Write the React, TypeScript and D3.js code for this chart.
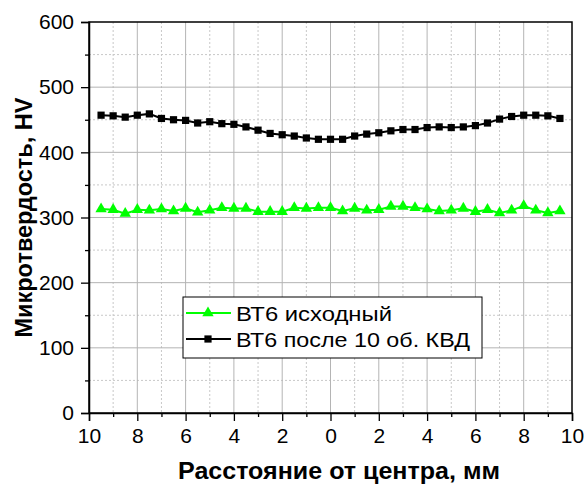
import { useEffect, useRef } from 'react';
import * as d3 from 'd3';

const positions = [
  -9.5, -9, -8.5, -8, -7.5, -7, -6.5, -6, -5.5, -5, -4.5, -4, -3.5, -3, -2.5, -2, -1.5, -1, -0.5,
  0, 0.5, 1, 1.5, 2, 2.5, 3, 3.5, 4, 4.5, 5, 5.5, 6, 6.5, 7, 7.5, 8, 8.5, 9, 9.5,
];

const hardnessInitial = [
  313, 312, 306, 312, 311, 313, 310, 314, 308, 311, 315, 314, 314, 309, 309, 309, 315, 314, 315,
  315, 310, 314, 311, 312, 317, 317, 315, 313, 310, 311, 314, 309, 312, 307, 311, 318, 311, 307, 310,
];

const hardnessHpt = [
  457, 456, 454, 457, 459, 452, 450, 449, 445, 447, 444, 443, 439, 434, 429, 427, 425, 422, 420,
  420, 420, 425, 428, 430, 433, 435, 435, 438, 439, 438, 439, 441, 445, 451, 455, 457, 457, 456, 452,
];

const seriesNames = ['ВТ6 исходный', 'ВТ6 после 10 об. КВД'];
const xTicks = [-10, -8, -6, -4, -2, 0, 2, 4, 6, 8, 10];
const yTicks = [0, 100, 200, 300, 400, 500, 600];

const GREEN = '#00ff00';
const FONT = '"Liberation Sans", Arial, sans-serif';

const App = () => {
  const chartRef = useRef<SVGSVGElement>(null);

  useEffect(() => {
    if (!chartRef.current) return;
    const svg = d3.select(chartRef.current);
    svg.selectAll('*').remove();

    const left = 89, right = 572, top = 22, bottom = 413;
    const x = d3.scaleLinear().domain([-10, 10]).range([left, right]);
    const y = d3.scaleLinear().domain([0, 600]).range([bottom, top]);

    const grid = svg.append('g');
    // minor grid (dotted)
    const xMinor = d3.range(-9, 10, 2);
    const yMinor = d3.range(50, 600, 100);
    grid.selectAll('line.xm').data(xMinor).join('line')
      .attr('class', 'xm')
      .attr('x1', d => x(d)).attr('x2', d => x(d)).attr('y1', top).attr('y2', bottom)
      .attr('stroke', '#c8c8c8').attr('stroke-dasharray', '2,2');
    grid.selectAll('line.ym').data(yMinor).join('line')
      .attr('class', 'ym')
      .attr('x1', left).attr('x2', right).attr('y1', d => y(d)).attr('y2', d => y(d))
      .attr('stroke', '#c8c8c8').attr('stroke-dasharray', '2,2');
    // major grid
    grid.selectAll('line.xg').data(xTicks.slice(1, -1)).join('line')
      .attr('class', 'xg')
      .attr('x1', d => x(d)).attr('x2', d => x(d)).attr('y1', top).attr('y2', bottom)
      .attr('stroke', '#b4b4b4');
    grid.selectAll('line.yg').data(yTicks.slice(1, -1)).join('line')
      .attr('class', 'yg')
      .attr('x1', left).attr('x2', right).attr('y1', d => y(d)).attr('y2', d => y(d))
      .attr('stroke', '#b4b4b4');

    // frame
    svg.append('rect')
      .attr('x', left).attr('y', top).attr('width', right - left).attr('height', bottom - top)
      .attr('fill', 'none').attr('stroke', '#000').attr('stroke-width', 1.5);

    // axes
    const xAxis = svg.append('g').attr('transform', `translate(0,${bottom})`)
      .call(d3.axisBottom(x).tickValues(xTicks).tickSize(8).tickPadding(7)
        .tickFormat(d => String(Math.abs(+d))));
    svg.append('g').attr('transform', `translate(0,${bottom})`)
      .call(d3.axisBottom(x).tickValues(xMinor).tickSize(4).tickFormat(() => ''))
      .select('.domain').remove();
    const yAxis = svg.append('g').attr('transform', `translate(${left},0)`)
      .call(d3.axisLeft(y).tickValues(yTicks).tickSize(8).tickPadding(7));
    svg.append('g').attr('transform', `translate(${left},0)`)
      .call(d3.axisLeft(y).tickValues(yMinor).tickSize(4).tickFormat(() => ''))
      .select('.domain').remove();
    [xAxis, yAxis].forEach(a => {
      a.select('.domain').attr('stroke-width', 1.5);
      a.selectAll('text').attr('font-family', FONT).attr('font-size', 21).attr('fill', '#000');
    });
    svg.selectAll('.tick line').attr('stroke', '#000').attr('stroke-width', 1.3);

    // series
    const line = d3.line<number>().x((_, i) => x(positions[i])).y(d => y(d));
    svg.append('path').datum(hardnessHpt)
      .attr('fill', 'none').attr('stroke', '#000').attr('stroke-width', 2).attr('d', line);
    svg.append('path').datum(hardnessInitial)
      .attr('fill', 'none').attr('stroke', GREEN).attr('stroke-width', 2).attr('d', line);

    const square = d3.symbol().type(d3.symbolSquare).size(52);
    const triangle = d3.symbol().type(d3.symbolTriangle).size(56);
    svg.append('g').selectAll('path').data(hardnessHpt).join('path')
      .attr('transform', (d, i) => `translate(${x(positions[i])},${y(d)})`)
      .attr('d', square).attr('fill', '#000');
    svg.append('g').selectAll('path').data(hardnessInitial).join('path')
      .attr('transform', (d, i) => `translate(${x(positions[i])},${y(d)})`)
      .attr('d', triangle).attr('fill', GREEN);

    // legend
    const lg = svg.append('g');
    lg.append('rect').attr('x', 183).attr('y', 297).attr('width', 299).attr('height', 61)
      .attr('fill', '#fff').attr('stroke', '#000').attr('stroke-width', 1);
    const entries = [
      { name: seriesNames[0], color: GREEN, sym: triangle, yy: 313, len: 156 },
      { name: seriesNames[1], color: '#000', sym: square, yy: 339, len: 234 },
    ];
    entries.forEach(e => {
      lg.append('line').attr('x1', 186).attr('x2', 231).attr('y1', e.yy).attr('y2', e.yy)
        .attr('stroke', e.color).attr('stroke-width', 2);
      lg.append('path').attr('transform', `translate(208,${e.yy})`).attr('d', e.sym).attr('fill', e.color);
      lg.append('text').attr('x', 236).attr('y', e.yy).attr('dy', '0.36em')
        .attr('font-family', FONT).attr('font-size', 21).attr('fill', '#000')
        .attr('textLength', e.len).attr('lengthAdjust', 'spacingAndGlyphs')
        .text(e.name);
    });

    // titles
    svg.append('text').attr('x', 339).attr('y', 479).attr('text-anchor', 'middle')
      .attr('font-family', FONT).attr('font-size', 23).attr('font-weight', 'bold')
      .attr('textLength', 322).attr('lengthAdjust', 'spacingAndGlyphs')
      .text('Расстояние от центра, мм');
    svg.append('text').attr('transform', `translate(32,${(top + bottom) / 2}) rotate(-90)`)
      .attr('text-anchor', 'middle')
      .attr('font-family', FONT).attr('font-size', 23).attr('font-weight', 'bold')
      .attr('textLength', 240).attr('lengthAdjust', 'spacingAndGlyphs')
      .text('Микротвердость, HV');
  }, []);

  return (
    <svg ref={chartRef} width={585} height={486}
      style={{ position: 'absolute', left: 0, top: 0, background: '#fff' }} />
  );
};

export default App;
